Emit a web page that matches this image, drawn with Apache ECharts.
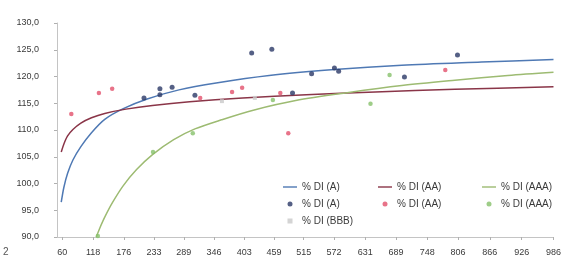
<!DOCTYPE html>
<html>
<head>
<meta charset="utf-8">
<script src="https://cdn.jsdelivr.net/npm/echarts@6/dist/echarts.min.js"></script>
<style>
  html, body { margin: 0; padding: 0; background: #fff; }
  #chart { width: 564px; height: 270px; }
</style>
</head>
<body>
<div id="chart"></div>
<script>
/* données */
var xTicks = [60, 118, 176, 233, 289, 346, 403, 459, 515, 572, 631, 689, 748, 806, 866, 926, 986];

// courbes de tendance
var trendA = [[58, 96.5], [63, 99.3], [70, 101.9], [80, 104.4], [95, 106.9], [115, 109.5], [140, 112.0], [175, 114.0], [220, 115.8], [280, 117.5], [350, 118.8], [450, 120.2], [573, 121.3], [700, 122.1], [850, 122.7], [986, 123.2]];
var trendAA = [[58, 105.9], [63, 107.4], [70, 108.9], [80, 110.1], [95, 111.3], [115, 112.3], [140, 113.1], [180, 113.9], [230, 114.6], [300, 115.3], [400, 116.0], [520, 116.6], [650, 117.1], [800, 117.6], [986, 118.1]];
var trendAAA = [[124, 90.0], [130, 91.5], [140, 93.7], [155, 96.5], [175, 99.6], [200, 102.6], [230, 105.4], [270, 108.2], [310, 110.2], [360, 111.9], [420, 113.7], [500, 115.5], [600, 117.0], [700, 118.3], [800, 119.3], [900, 120.2], [986, 120.8]];

// points
var dotsA = [[214, 116.0], [244, 117.7], [244, 116.6], [267, 118.0], [310, 116.5], [417, 124.4], [455, 125.1], [494, 116.9], [530, 120.5], [573, 121.6], [581, 121.0], [705, 119.9], [805, 124.0]];
var dotsAA = [[77, 113.0], [129, 116.9], [154, 117.7], [320, 116.0], [380, 117.1], [399, 117.9], [471, 116.9], [486, 109.4], [782, 121.2]];
var dotsAAA = [[127, 90.2], [231, 105.9], [306, 109.4], [457, 115.6], [641, 114.9], [677, 120.3]];
var dotsBBB = [[361, 115.4], [423, 116.0]];

var colA = '#4f79b4', colAA = '#8a3548', colAAA = '#9dbb72';
var lineIcon = 'path://M0,0L16,0L16,1.6L0,1.6Z';
var squareIcon = 'path://M0,0L5,0L5,5L0,5Z';

var chart = echarts.init(document.getElementById('chart'), null, { renderer: 'canvas' });

function legendCol(left, items) {
  return {
    orient: 'vertical',
    left: left,
    top: 177,
    itemWidth: 14,
    itemHeight: 5,
    itemGap: 7,
    selectedMode: false,
    textStyle: { fontFamily: 'Liberation Sans', fontSize: 10, color: '#3a3a3a' },
    data: items
  };
}

var option = {
  animation: false,
  backgroundColor: '#ffffff',
  grid: { left: 57, top: 23, right: 10, bottom: 33 },
  legend: [
    legendCol(278, [{ name: '% DI (A)', icon: lineIcon }, '% DI (A) ', { name: '% DI (BBB)', icon: squareIcon }]),
    legendCol(373, [{ name: '% DI (AA)', icon: lineIcon }, '% DI (AA) ']),
    legendCol(477, [{ name: '% DI (AAA)', icon: lineIcon }, '% DI (AAA) '])
  ],
  xAxis: {
    type: 'value',
    min: 50,
    max: 986,
    splitLine: { show: false },
    axisLine: { show: true, lineStyle: { color: '#c4c4c4', width: 1 } },
    axisTick: { show: true, customValues: xTicks, length: 3, lineStyle: { color: '#b0b0b0' } },
    axisLabel: {
      customValues: xTicks,
      margin: 11,
      fontFamily: 'Liberation Sans',
      fontSize: 9,
      color: '#3a3a3a'
    }
  },
  yAxis: {
    type: 'value',
    min: 90,
    max: 130,
    interval: 5,
    splitLine: { show: false },
    axisLine: { show: true, lineStyle: { color: '#c4c4c4', width: 1 } },
    axisTick: { show: true, length: 3, lineStyle: { color: '#b0b0b0' } },
    axisLabel: {
      margin: 18,
      fontFamily: 'Liberation Sans',
      fontSize: 9,
      color: '#3a3a3a',
      formatter: function (v) { return v.toFixed(1).replace('.', ','); }
    }
  },
  graphic: [
    { type: 'text', left: 3, top: 247, style: { text: '2', fontFamily: 'Liberation Sans', fontSize: 10, fill: '#555' } }
  ],
  series: [
    {
      name: '% DI (A)', type: 'line', data: trendA, symbol: 'none', smooth: 0.3,
      lineStyle: { color: colA, width: 1.5 }, itemStyle: { color: colA }
    },
    {
      name: '% DI (AA)', type: 'line', data: trendAA, symbol: 'none', smooth: 0.3,
      lineStyle: { color: colAA, width: 1.5 }, itemStyle: { color: colAA }
    },
    {
      name: '% DI (AAA)', type: 'line', data: trendAAA, symbol: 'none', smooth: 0.3,
      lineStyle: { color: colAAA, width: 1.5 }, itemStyle: { color: colAAA }
    },
    {
      name: '% DI (A) ', type: 'scatter', data: dotsA, symbol: 'circle', symbolSize: 5,
      itemStyle: { color: '#2b3866' }, z: 5
    },
    {
      name: '% DI (AA) ', type: 'scatter', data: dotsAA, symbol: 'circle', symbolSize: 4.5,
      itemStyle: { color: '#e2506c' }, z: 5
    },
    {
      name: '% DI (AAA) ', type: 'scatter', data: dotsAAA, symbol: 'circle', symbolSize: 4.5,
      itemStyle: { color: '#86c06a' }, z: 5
    },
    {
      name: '% DI (BBB)', type: 'scatter', data: dotsBBB, symbol: 'rect', symbolSize: 4,
      itemStyle: { color: '#c9c9c9' }, z: 5
    }
  ]
};

chart.setOption(option);
</script>
</body>
</html>
